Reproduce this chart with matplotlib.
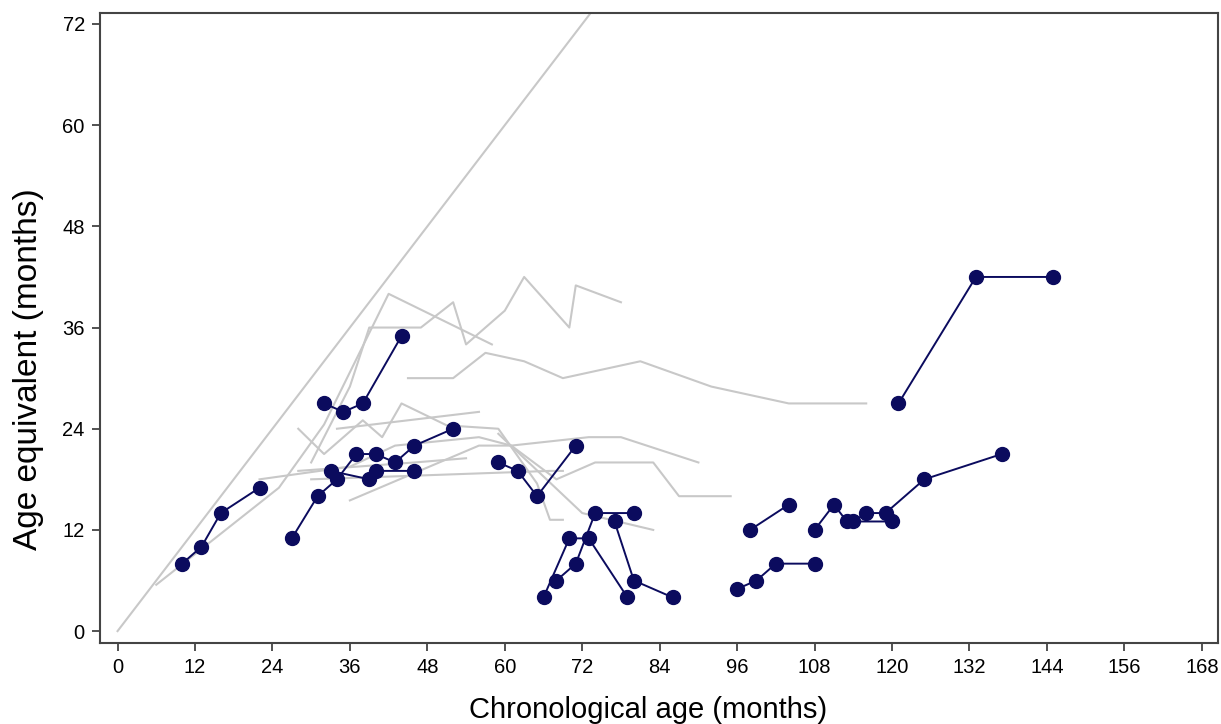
import numpy as np
import matplotlib.pyplot as plt

plt.rcParams['font.family'] = ['Liberation Sans', 'DejaVu Sans']

# subjects shown in navy (age in months, age equivalent in months)
blue_x = [
    [10, 13, 16, 22],
    [27, 31, 34, 37, 40, 43, 46, 52],
    [33, 39, 40, 46],
    [32, 35, 38, 44],
    [59, 62, 65, 71],
    [66, 70, 73, 79],
    [68, 71, 74, 80],
    [77, 80, 86],
    [96, 99, 102, 108],
    [98, 104],
    [108, 111, 113, 120],
    [114, 116, 119, 125, 137],
    [121, 133, 145],
]
blue_y = [
    [8, 10, 14, 17],
    [11, 16, 18, 21, 21, 20, 22, 24],
    [19, 18, 19, 19],
    [27, 26, 27, 35],
    [20, 19, 16, 22],
    [4, 11, 11, 4],
    [6, 8, 14, 14],
    [13, 6, 4],
    [5, 6, 8, 8],
    [12, 15],
    [12, 15, 13, 13],
    [13, 14, 14, 18, 21],
    [27, 42, 42],
]

# subjects shown in grey, no markers
grey_x = [
    [6, 25, 32, 42, 58],
    [30, 36, 39, 47, 52, 54, 60, 63, 70, 71, 78],
    [45, 52, 57, 63, 69, 81, 92, 104, 116],
    [28, 32, 38, 41, 44, 51, 59, 65, 67, 69],
    [34, 56],
    [22, 36, 43, 56, 61, 73, 78, 90],
    [28, 46, 54],
    [30, 67, 69],
    [36, 56, 61, 68, 74, 83, 87, 95],
    [59, 72, 83],
]
grey_y = [
    [5.5, 17, 24.5, 40, 34],
    [20, 29, 36, 36, 39, 34, 38, 42, 36, 41, 39],
    [30, 30, 33, 32, 30, 32, 29, 27, 27],
    [24, 21, 25, 23, 27, 24.4, 24, 17.5, 13.2, 13.2],
    [24, 26],
    [18, 19.5, 22, 23, 22, 23, 23, 20],
    [19, 20, 20.5],
    [18, 19, 19],
    [15.5, 22, 22, 18, 20, 20, 16, 16],
    [23.4, 14, 12],
]

fig = plt.figure(figsize=(12.21, 7.24), dpi=100)
ax = fig.add_axes([0.082, 0.112, 0.9155, 0.870])

ax.plot([0, 80], [0, 80], color='#c8c8c8', lw=1.5)
for xs, ys in zip(grey_x, grey_y):
    ax.plot(xs, ys, color='#c8c8c8', lw=1.5)
for xs, ys in zip(blue_x, blue_y):
    ax.plot(xs, ys, color='#0b0b5e', lw=1.4, marker='o', ms=10,
            mfc='#0b0b5e', mec='#0b0b5e')

ax.set_xlim(-2.7, 170.5)
ax.set_ylim(-1.4, 73.3)
ax.set_xticks(np.arange(0, 169, 12))
ax.set_yticks(np.arange(0, 73, 12))
ax.tick_params(labelsize=14.5, length=6, width=1.2, color='#333333', pad=5)
for s in ax.spines.values():
    s.set_linewidth(1.5)
    s.set_color('#444444')
ax.set_xlabel('Chronological age (months)', fontsize=21)
ax.set_ylabel('Age equivalent (months)', fontsize=24)
ax.xaxis.set_label_coords(0.49, -0.085)
ax.yaxis.set_label_coords(-0.05, 0.435)

fig.savefig('out.png', dpi=100)
